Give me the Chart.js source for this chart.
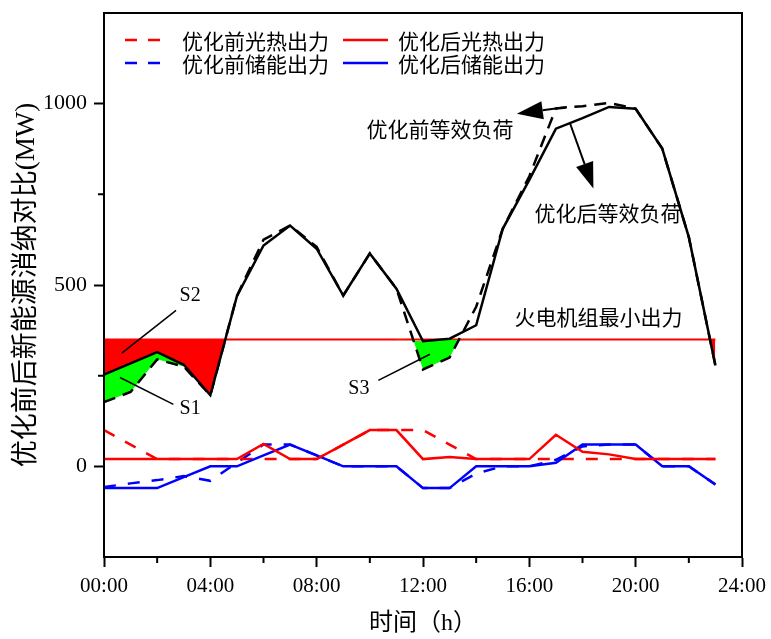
<!DOCTYPE html>
<html>
<head>
<meta charset="utf-8">
<script src="https://cdn.jsdelivr.net/npm/chart.js@4/dist/chart.umd.min.js"></script>
<style>
  html, body { margin: 0; padding: 0; background: #fff; }
</style>
</head>
<body>
<canvas id="chart" width="771" height="639"></canvas>
<script>
const hours = [0, 1, 2, 3, 4, 5, 6, 7, 8, 9, 10, 11, 12, 13, 14, 15, 16, 17, 18, 19, 20, 21, 22, 23];

// equivalent load before / after optimization (MW)
const loadBefore = [177, 205, 295, 275, 196, 470, 625, 664, 605, 471, 587, 490, 267, 300, 440, 655, 800, 987, 993, 1002, 986, 876, 632, 278];
const loadAfter  = [253, 284, 315, 280, 196, 469, 609, 664, 600, 471, 587, 490, 345, 352, 389, 655, 790, 931, 960, 991, 986, 876, 632, 278];

// CSP (光热) output
const cspBefore = [100, 60, 20, 20, 20, 20, 20, 20, 20, 60, 100, 100, 100, 60, 20, 20, 20, 20, 20, 20, 20, 20, 20, 20];
const cspAfter  = [20, 20, 20, 20, 20, 20, 62, 20, 20, 60, 100, 100, 20, 26, 20, 20, 20, 87, 40, 33, 20, 20, 20, 20];

// storage output
const storBefore = [-57, -47, -38, -27, -40, 10, 60, 60, 30, 0, 0, 0, -60, -60, -20, 0, 0, 18, 55, 60, 60, 0, 0, -50];
const storAfter  = [-60, -60, -60, -30, 0, 0, 30, 60, 30, 0, 0, 0, -60, -60, 0, 0, 0, 10, 60, 60, 60, 0, 0, -50];

// thermal unit minimum output
const thermalMin = 350;

// hours where the green areas S1 / S3 are drawn
const greenHours = [0, 1, 2, 3, 11, 12, 13, 14];

const legendNames = ['优化前光热出力', '优化后光热出力', '优化前储能出力', '优化后储能出力'];

// annotations in data coordinates [hour, MW]
const labels = [
  { text: 'S2', at: [3.24, 470], font: '20px "Liberation Serif"' },
  { text: 'S1', at: [3.24, 160], font: '20px "Liberation Serif"' },
  { text: 'S3', at: [9.59, 215], font: '20px "Liberation Serif"' },
  { text: '优化前等效负荷', at: [12.64, 929], font: '21px "Noto Sans CJK SC"' },
  { text: '优化后等效负荷', at: [18.96, 698], font: '21px "Noto Sans CJK SC"' },
  { text: '火电机组最小出力', at: [18.6, 411], font: '21px "Noto Sans CJK SC"' }
];
const leaders = [
  [[0.67, 312], [2.71, 430]],
  [[0.60, 245], [2.61, 171]],
  [[10.32, 237], [12.26, 309]]
];
const arrows = [
  [[17.41, 991], [15.53, 972]],
  [[17.53, 946], [18.41, 766]]
];

const pts = (arr) => arr.map((v, i) => ({ x: hours[i], y: v }));
const serif = '"Liberation Serif", "Noto Sans CJK SC"';
// upper edge of the green areas: after-load capped by the thermal minimum
const greenTop = loadAfter.map((v, i) => (greenHours.includes(i) ? Math.min(v, thermalMin) : null));

const framePlugin = {
  id: 'frame',
  afterDraw(chart) {
    const { ctx, chartArea: a, scales } = chart;
    ctx.save();
    ctx.strokeStyle = '#000';
    ctx.lineWidth = 2;
    ctx.strokeRect(a.left, a.top, a.right - a.left, a.bottom - a.top);
    // short minor ticks
    ctx.beginPath();
    for (let h = 2; h < 24; h += 4) {
      const x = scales.x.getPixelForValue(h);
      ctx.moveTo(x, a.bottom);
      ctx.lineTo(x, a.bottom + 6);
    }
    for (let v = 250; v < 1250; v += 500) {
      const y = scales.y.getPixelForValue(v);
      ctx.moveTo(a.left, y);
      ctx.lineTo(a.left - 6, y);
    }
    ctx.stroke();
    ctx.restore();
  }
};

const notesPlugin = {
  id: 'notes',
  afterDatasetsDraw(chart) {
    const { ctx, scales } = chart;
    const px = (p) => [scales.x.getPixelForValue(p[0]), scales.y.getPixelForValue(p[1])];
    ctx.save();
    ctx.strokeStyle = '#000';
    ctx.fillStyle = '#000';
    ctx.lineWidth = 1.5;
    leaders.forEach(([p, q]) => {
      const a = px(p), b = px(q);
      ctx.beginPath();
      ctx.moveTo(a[0], a[1]);
      ctx.lineTo(b[0], b[1]);
      ctx.stroke();
    });
    ctx.lineWidth = 2;
    arrows.forEach(([p, q]) => {
      const a = px(p), b = px(q);
      const ang = Math.atan2(b[1] - a[1], b[0] - a[0]);
      const len = 26, half = 9;
      const bx = b[0] - len * Math.cos(ang), by = b[1] - len * Math.sin(ang);
      ctx.beginPath();
      ctx.moveTo(a[0], a[1]);
      ctx.lineTo(bx, by);
      ctx.stroke();
      ctx.beginPath();
      ctx.moveTo(b[0], b[1]);
      ctx.lineTo(bx + half * Math.sin(ang), by - half * Math.cos(ang));
      ctx.lineTo(bx - half * Math.sin(ang), by + half * Math.cos(ang));
      ctx.closePath();
      ctx.fill();
    });
    ctx.textAlign = 'center';
    ctx.textBaseline = 'middle';
    labels.forEach((l) => {
      const p = px(l.at);
      ctx.font = l.font;
      ctx.fillText(l.text, p[0], p[1]);
    });

    // legend inside plot area
    const a = chart.chartArea;
    const items = [
      { ds: 0, col: 0, row: 0 }, { ds: 1, col: 1, row: 0 },
      { ds: 2, col: 0, row: 1 }, { ds: 3, col: 1, row: 1 }
    ];
    const styles = [
      { color: '#ff0000', dash: [12, 11] }, { color: '#ff0000', dash: [] },
      { color: '#0000ff', dash: [12, 11] }, { color: '#0000ff', dash: [] }
    ];
    ctx.font = '21px "Noto Sans CJK SC"';
    ctx.textAlign = 'left';
    items.forEach((it) => {
      const y = a.top + 27 + it.row * 23;
      const x0 = a.left + (it.col === 0 ? 21 : 239);
      const x1 = x0 + (it.col === 0 ? 37 : 45);
      const st = styles[it.ds];
      ctx.strokeStyle = st.color;
      ctx.lineWidth = 2.5;
      ctx.setLineDash(st.dash);
      ctx.beginPath();
      ctx.moveTo(x0, y);
      ctx.lineTo(x1, y);
      ctx.stroke();
      ctx.setLineDash([]);
      ctx.fillStyle = '#000';
      ctx.fillText(legendNames[it.ds], a.left + (it.col === 0 ? 78 : 294), y + 1);
    });
    ctx.restore();
  }
};

new Chart(document.getElementById('chart'), {
  type: 'line',
  data: {
    datasets: [
      { label: '优化后等效负荷', data: pts(loadAfter), borderColor: '#000', borderWidth: 2.5,
        fill: { target: { value: thermalMin }, above: 'rgba(0,0,0,0)', below: '#ff0000' } },
      { label: '优化前等效负荷', data: pts(loadBefore), borderColor: '#000', borderWidth: 2.5, borderDash: [12, 8],
        fill: { target: 7, above: 'rgba(0,0,0,0)', below: '#00ff00' } },
      { label: '火电机组最小出力', data: pts(hours.map(() => thermalMin)), borderColor: '#ff0000', borderWidth: 2 },
      { label: legendNames[1], data: pts(cspAfter), borderColor: '#ff0000', borderWidth: 2.5 },
      { label: legendNames[3], data: pts(storAfter), borderColor: '#0000ff', borderWidth: 2.5 },
      { label: legendNames[0], data: pts(cspBefore), borderColor: '#ff0000', borderWidth: 2.5, borderDash: [12, 12] },
      { label: legendNames[2], data: pts(storBefore), borderColor: '#0000ff', borderWidth: 2.5, borderDash: [12, 12] },
      { label: 'greenTop', data: pts(greenTop), borderWidth: 0, borderColor: 'rgba(0,0,0,0)', spanGaps: false }
    ]
  },
  options: {
    responsive: false,
    animation: false,
    elements: { point: { radius: 0 }, line: { tension: 0 } },
    layout: { padding: { left: 0, top: 13, right: 29, bottom: 0 } },
    plugins: { legend: { display: false }, tooltip: { enabled: false } },
    scales: {
      x: {
        type: 'linear', min: 0, max: 24,
        afterFit: (s) => { s.height = 82; s.paddingLeft = 0; s.paddingRight = 0; },
        border: { color: '#000', width: 2 },
        grid: { drawOnChartArea: false, tickLength: 10, tickWidth: 2,
          tickColor: (c) => (c.tick && c.tick.value % 4 === 0 ? '#000' : 'rgba(0,0,0,0)') },
        ticks: { stepSize: 2, color: '#000', padding: 7, maxRotation: 0, autoSkip: false,
          font: { family: serif, size: 21 },
          callback: (v) => (v % 4 === 0 ? String(v).padStart(2, '0') + ':00' : '') },
        title: { display: true, text: '时间（h）', color: '#000',
          font: { family: serif, size: 24 }, padding: { top: 0, bottom: 1 } }
      },
      y: {
        min: -250, max: 1250,
        afterFit: (s) => { s.width = 104; s.paddingTop = 0; s.paddingBottom = 0; },
        border: { color: '#000', width: 2 },
        grid: { drawOnChartArea: false, tickLength: 10, tickWidth: 2,
          tickColor: (c) => (c.tick && c.tick.value % 500 === 0 ? '#000' : 'rgba(0,0,0,0)') },
        ticks: { stepSize: 250, color: '#000', padding: 7,
          font: { family: serif, size: 22 },
          callback: (v) => (v % 500 === 0 ? v : '') },
        title: { display: true, text: '优化前后新能源消纳对比(MW)', color: '#000',
          font: { family: serif, size: 27 }, padding: { top: 11, bottom: 0 } }
      }
    }
  },
  plugins: [framePlugin, notesPlugin]
});
</script>
</body>
</html>
